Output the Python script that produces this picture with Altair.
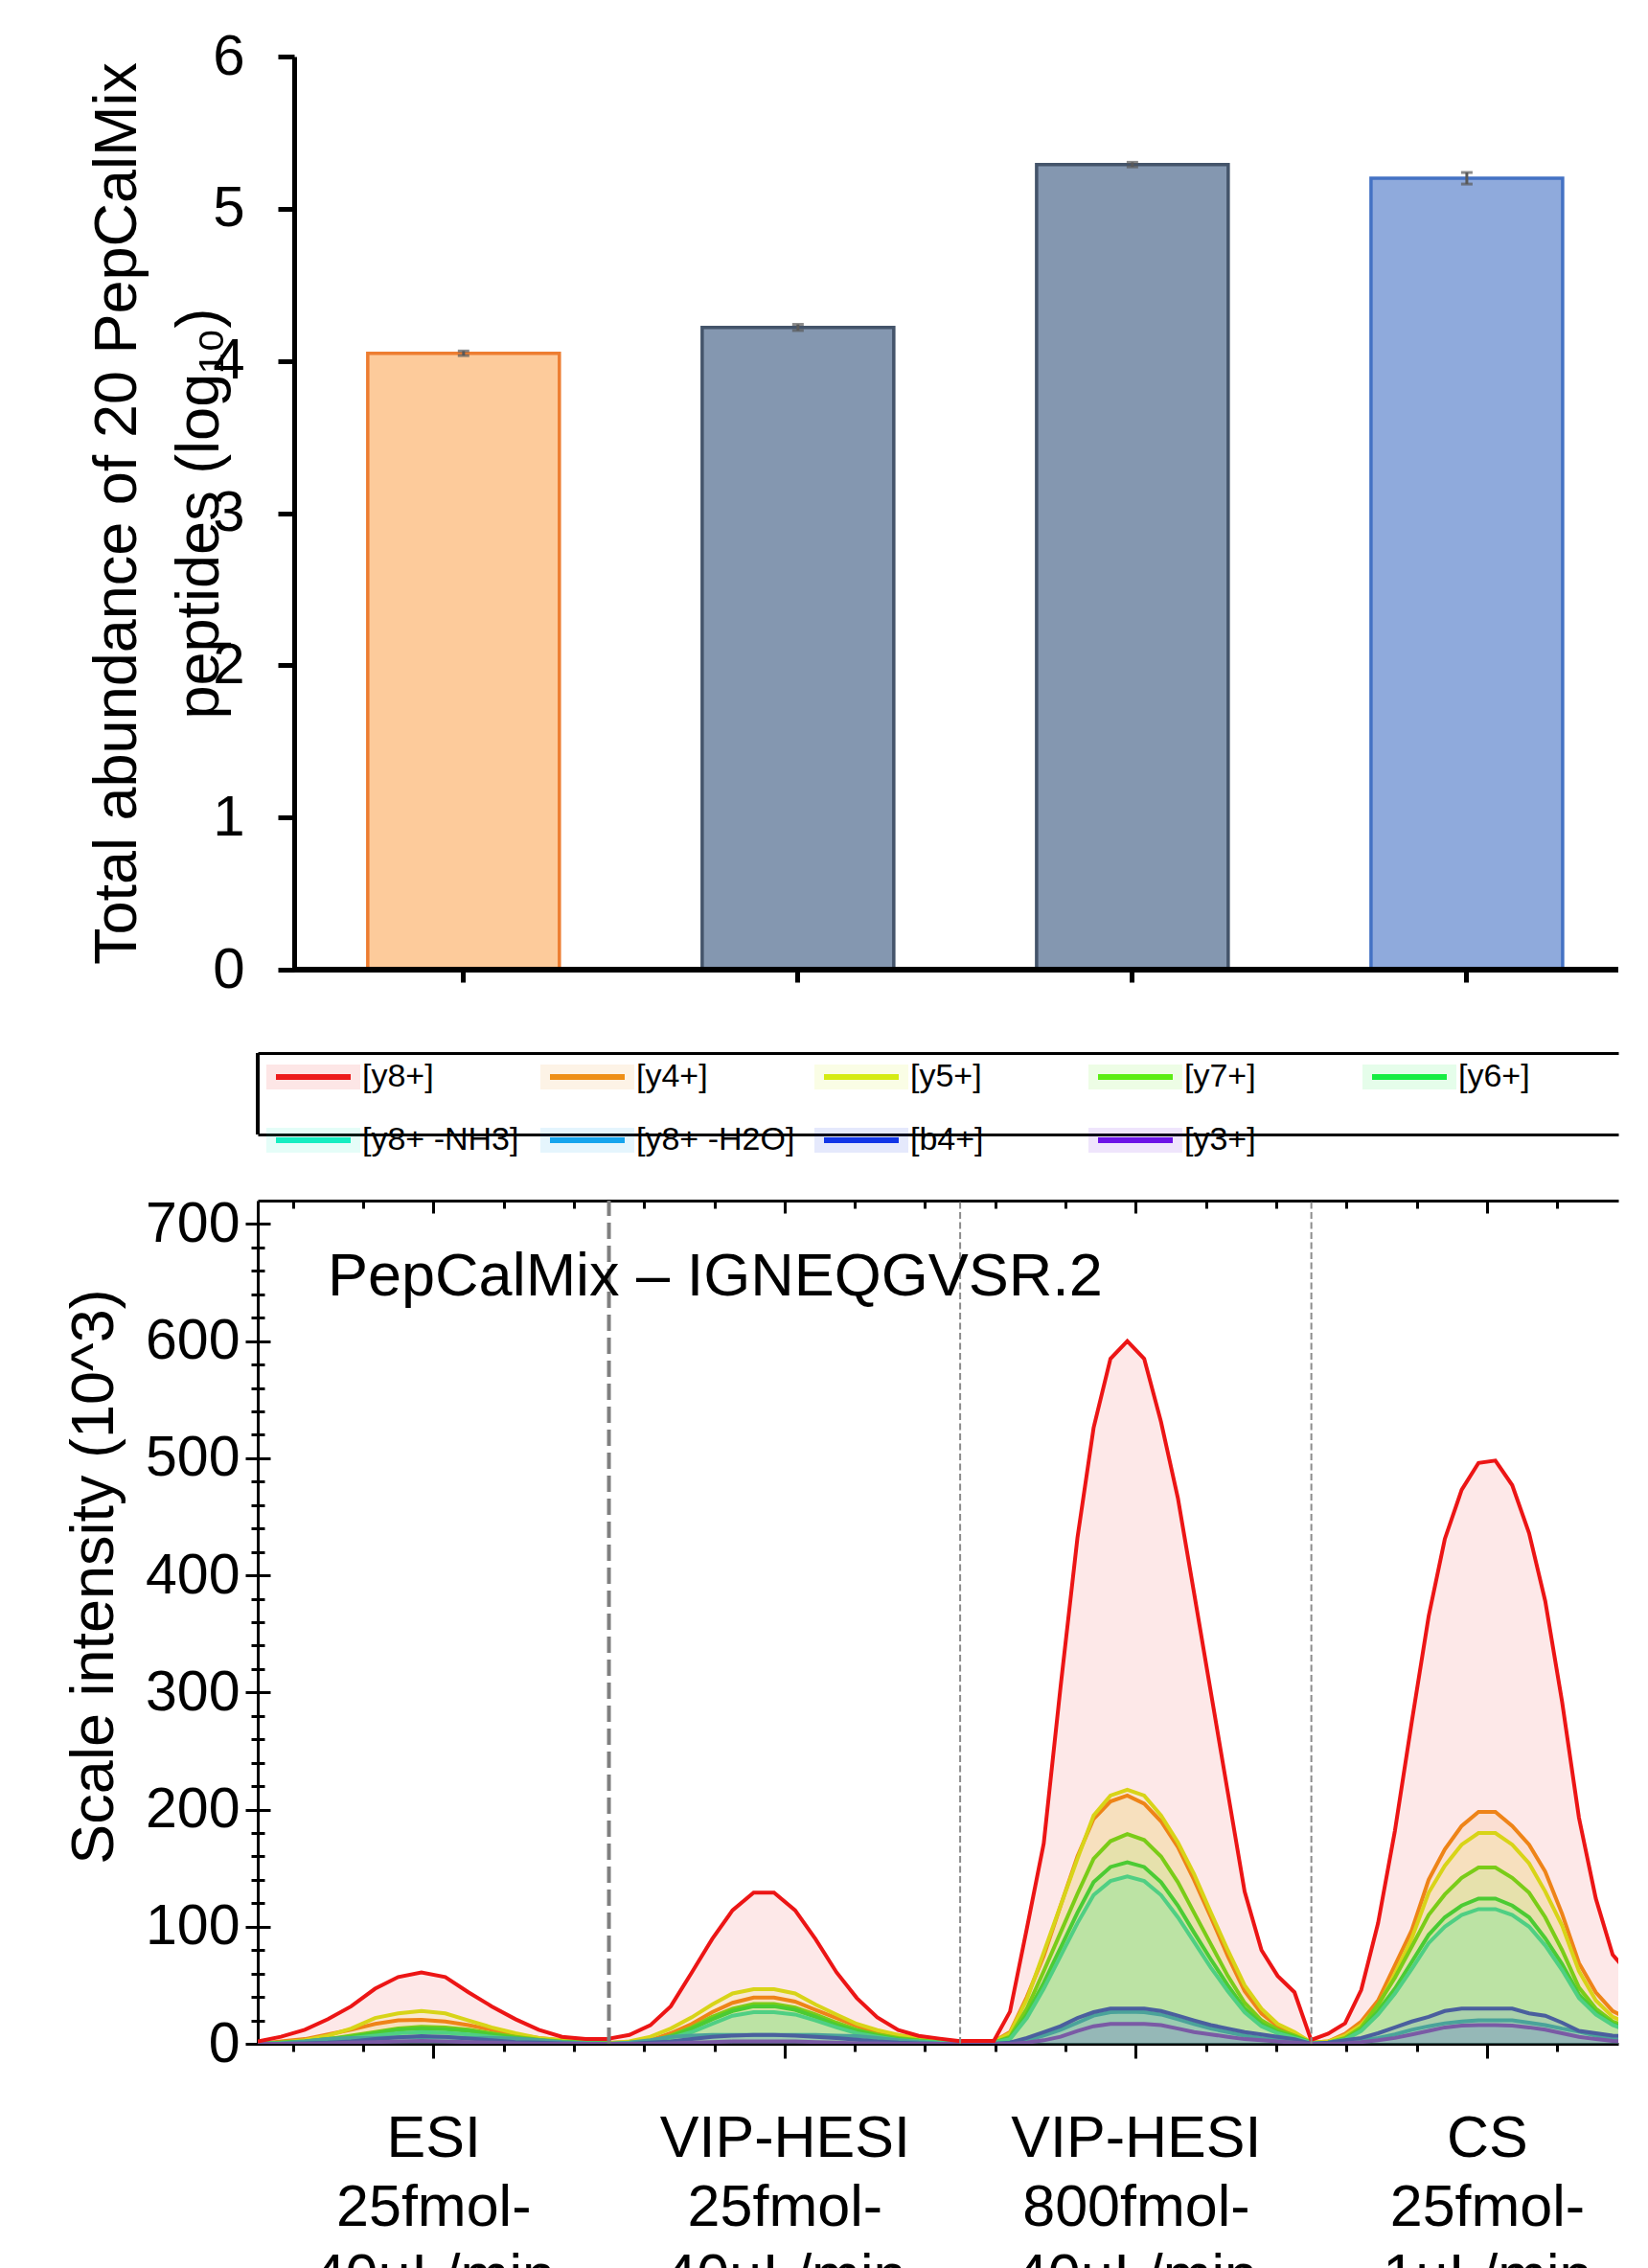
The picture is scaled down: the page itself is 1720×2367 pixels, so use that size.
import json
import pandas as pd
import altair as alt

FONT = "Liberation Sans, Arial, Helvetica, sans-serif"

# ---------------- top panel: total abundance (log10) ----------------
conditions = ["ESI 25fmol-40µL/min", "VIP-HESI 25fmol-40µL/min",
              "VIP-HESI 800fmol-40µL/min", "CS 25fmol-1µL/min"]
abundance = [4.05, 4.22, 5.29, 5.20]
abundance_sd = [0.015, 0.02, 0.015, 0.038]
bar_fill = ["#FDCB9B", "#8497B0", "#8497B0", "#8FAADC"]
bar_edge = ["#ED7D31", "#44546A", "#44546A", "#4472C4"]

# ---------------- bottom panel: extracted ion chromatograms ----------------
series = ["[y8+]", "[y4+]", "[y5+]", "[y7+]", "[y6+]",
          "[y8+ -NH3]", "[y8+ -H2O]", "[b4+]", "[y3+]"]
legend_colors = ["#EE1C1C", "#EF8F17", "#D6EB14", "#5CEE14", "#16EE43",
                 "#16EEC2", "#16A5EE", "#1236E8", "#6C14E8"]
line_colors = ["#EC1515", "#EE8418", "#D8D418", "#7ACC18", "#4BCB33",
               "#4FCF83", "#4AA39A", "#4A5F9E", "#7A5AA5"]
peptide_title = "PepCalMix – IGNEQGVSR.2"

t_esi = [0, 0.33, 0.67, 1.0, 1.33, 1.67, 2.0, 2.33, 2.67, 3.0, 3.33, 3.67, 4.0, 4.33, 4.67, 5.0]
t_vip25 = [5.0, 5.29, 5.59, 5.88, 6.18, 6.47, 6.76, 7.06, 7.35, 7.65, 7.94, 8.24, 8.53,
           8.82, 9.12, 9.41, 9.71, 10.0]
t_vip800 = [10.0, 10.24, 10.48, 10.71, 10.95, 11.19, 11.43, 11.67, 11.9, 12.14, 12.38, 12.62,
            12.86, 13.1, 13.33, 13.57, 13.81, 14.05, 14.29, 14.52, 14.76, 15.0]
t_cs = [15.0, 15.24, 15.48, 15.71, 15.95, 16.19, 16.43, 16.67, 16.9, 17.14, 17.38, 17.62,
        17.86, 18.1, 18.33, 18.57, 18.81, 19.05, 19.29, 19.52]
time = t_esi + t_vip25 + t_vip800 + t_cs

y8 = ([2, 6, 12, 21, 32, 47, 57, 61, 57, 44, 32, 21, 12, 6, 4, 4]
      + [4.4, 7.6, 15.8, 32, 61, 89.5, 114, 129, 129, 114, 89.5, 61, 39, 22.6, 11.7, 6.8, 4.4, 2.2]
      + [2.5, 2.5, 2.5, 27.5, 98.6, 171, 305, 432, 526, 585, 600, 585, 531, 466, 385, 300, 215,
         130, 80, 58, 44, 2.5]
      + [3.3, 8.6, 17.5, 46, 103, 182, 275, 365, 431, 473, 496, 498, 477, 436, 378, 292, 193,
         124, 76, 60])
y4 = ([0, 2, 4, 8, 12, 17, 20, 20.5, 19, 16, 12, 8, 5, 3, 2, 2]
      + [1, 1.5, 3, 9, 17, 27, 35, 39.5, 39.5, 36, 29, 22, 15, 10, 6, 3.5, 2, 1]
      + [1, 1, 2, 10, 40, 75, 118, 160, 192, 207, 212, 205, 190, 168, 140, 108, 75, 45, 26, 15, 9, 1]
      + [1, 2, 8.6, 19, 37, 67, 97, 140, 166, 186, 198, 198, 186, 170, 147, 111, 69, 44, 28, 21])
y5 = ([0, 1, 3, 7, 13, 22, 26, 28, 26, 20, 14, 9, 5, 3, 1.5, 1]
      + [0.5, 2, 6, 13, 22.6, 33.5, 43, 46.6, 46.6, 43, 33.5, 25, 17, 11.7, 7.6, 4.9, 3, 1]
      + [1, 1, 2, 9, 38, 78, 118, 158, 195, 212, 217, 212, 195, 172, 145, 112, 80, 50, 30, 17, 10, 1]
      + [1, 2, 7, 16, 32, 60, 90, 129, 152, 170, 180, 180, 170, 154, 130, 101, 62, 37, 23, 17])
y7 = ([0, 1, 2, 4, 7, 10, 13, 14.5, 14, 12, 9, 6, 3.5, 2, 1, 0.5]
      + [0, 1, 2, 7, 14, 23, 30, 34, 34, 31, 25, 18, 12, 8, 5, 3, 1.5, 0.5]
      + [0.5, 0.5, 1, 6, 30, 62, 95, 128, 158, 173, 179, 174, 160, 138, 112, 85, 58, 35, 20, 12, 7, 1]
      + [0.5, 1, 5, 14, 33.5, 56.5, 83, 110, 127.5, 141.7, 150.6, 150.6, 141.7, 129, 108, 80, 48,
         30, 19, 14])
y6 = ([0, 1, 2, 4, 6, 9, 12, 13, 12.5, 11, 8, 5, 3, 1.5, 1, 0.5]
      + [0, 0.5, 2, 6, 13, 21, 28, 32, 32, 29, 23, 16, 11, 7, 4, 2.5, 1, 0.5]
      + [0.5, 0.5, 1, 5, 25, 52, 82, 112, 138, 151, 155, 151, 138, 118, 95, 72, 50, 30, 17, 10, 6, 1]
      + [0.5, 1, 4, 12, 28, 47, 70, 93, 108, 118, 124, 124, 118, 108, 90, 68, 42, 27, 17, 12])
y8_nh3 = ([0, 0.5, 1, 3, 5, 7, 9, 10, 9.5, 8, 6, 4, 2, 1, 0.5, 0]
          + [0, 0.5, 1.5, 5, 10, 17, 24, 27, 27, 25, 20, 14, 9, 6, 3, 2, 1, 0]
          + [0.5, 0.5, 1, 4, 22, 47, 75, 103, 127, 139, 143, 139, 127, 108, 87, 65, 45, 27, 15, 9, 5, 1]
          + [0.5, 1, 3.5, 11, 25, 43, 64, 86, 100, 110, 115, 115, 110, 100, 84, 63, 39, 25, 16, 11])
y8_h2o = ([0, 0.5, 2, 4, 5, 5, 5.5, 5.5, 5.5, 5, 5, 4.5, 3, 1.5, 0.5, 0]
          + [0, 1, 3, 6, 7, 7.5, 7.5, 7.5, 7.5, 7.5, 7.5, 7, 6.5, 5, 3, 1.5, 0.5, 0]
          + [0, 0, 0, 1, 3, 7, 12, 18, 24, 27, 27.5, 27, 25, 21, 17, 13, 10, 7, 5, 4, 3, 0]
          + [0, 0.5, 1.5, 3, 5, 8, 12, 15, 17.5, 19, 20, 20, 20, 18, 16, 13, 10.4, 7, 4, 3])
b4 = ([0, 0, 0.5, 1, 2, 4, 5.5, 6.5, 6, 4.5, 3, 1.5, 1, 0.5, 0, 0]
      + [0, 0, 1, 2, 4, 6, 7, 7.6, 7.6, 7, 6, 5, 3.5, 2, 1, 0.5, 0, 0]
      + [0, 0, 0, 1, 5, 10, 15, 22, 27, 30, 30, 30, 28, 24, 20, 16, 13, 10, 8, 6, 4, 0]
      + [0, 1, 3, 5, 9, 14, 19, 23, 28, 30, 30, 30, 30, 26, 24, 18, 11, 9, 7, 6])
y3 = ([0, 0, 0, 0.5, 1, 1.5, 2, 2.5, 2, 1.5, 1, 0.5, 0, 0, 0, 0]
      + [0, 0, 0, 0.5, 1, 1.5, 2, 2, 2, 2, 1.5, 1, 0.5, 0.5, 0, 0, 0, 0]
      + [0, 0, 0, 0, 1, 3, 6, 11, 15, 17, 17, 17, 16, 13, 10, 8, 6, 4, 3, 2, 1, 0]
      + [0, 0, 0.5, 1.5, 3, 5, 8, 11, 14, 15.5, 16, 16, 15.5, 14, 12, 9, 6, 4, 2.5, 2])
all_traces = [y8, y4, y5, y7, y6, y8_nh3, y8_h2o, b4, y3]

segment_bounds = [5, 10, 15]
segment_centers = [2.5, 7.5, 12.5, 17.5]
segment_minor = [0.5, 1.5, 3.5, 4.5, 5.5, 6.5, 8.5, 9.5, 10.5, 11.5, 13.5, 14.5,
                 15.5, 16.5, 18.5]
segment_labels = [["ESI", "25fmol-", "40µL/min"],
                  ["VIP-HESI", "25fmol-", "40µL/min"],
                  ["VIP-HESI", "800fmol-", "40µL/min"],
                  ["CS", "25fmol-", "1µL/min"]]
y_major = [0, 100, 200, 300, 400, 500, 600, 700]
y_minor = [v for v in range(20, 720, 20) if v % 100 != 0]

# ---------------- data frames ----------------
bars_df = pd.DataFrame({"cond": conditions, "val": abundance, "sd": abundance_sd})
rows = []
for s, vals in zip(series, all_traces):
    for t, v in zip(time, vals):
        rows.append({"t": t, "v": v, "series": s})
chrom_df = pd.DataFrame(rows)
bounds_df = pd.DataFrame({"b": segment_bounds})
legend_df = pd.DataFrame({"series": series})
title_df = pd.DataFrame({"label": [peptide_title]})


def tint(hex_color, a=0.11):
    h = hex_color.lstrip("#")
    r, g, b = int(h[0:2], 16), int(h[2:4], 16), int(h[4:6], 16)
    return f"rgba({r},{g},{b},{a})"


legend_tints = [tint(c) for c in legend_colors]
W = 1420


def AX(**kw):
    base = dict(labels=False, title=None, grid=False, domain=False, ticks=True, tickWidth=3,
                tickColor="black")
    base.update(kw)
    return alt.Axis(**base)


# ================= top chart =================
bx = alt.Scale(domain=conditions, paddingInner=0.427, paddingOuter=0.2477, align=0.664)
by = alt.Scale(domain=[0, 6], nice=False)
ax_by = alt.Axis(orient="left", offset=-38, values=[0, 1, 2, 3, 4, 5, 6], domain=True,
                 domainColor="black", domainWidth=5, ticks=True, tickSize=17, tickWidth=5,
                 tickColor="black", labelFont=FONT, labelFontSize=60, labelColor="black",
                 labelPadding=35, labelFlush=False, grid=False,
                 title=["Total abundance of 20 PepCalMix", "peptides (log₁₀)"],
                 titleFont=FONT, titleFontSize=63, titleFontWeight="normal", titleColor="black",
                 titleAngle=270, titleX=-185, titleY=476.5, titleBaseline="middle",
                 titleAlign="center", titleLineHeight=86, titleLimit=3000)
bars = alt.Chart(bars_df).mark_bar(strokeWidth=3.5).encode(
    x=alt.X("cond:N", scale=bx, axis=None),
    y=alt.Y("val:Q", scale=by, axis=ax_by),
    fill=alt.Fill("cond:N", scale=alt.Scale(domain=conditions, range=bar_fill), legend=None),
    stroke=alt.Stroke("cond:N", scale=alt.Scale(domain=conditions, range=bar_edge), legend=None))
baseline = alt.Chart(bars_df).mark_rule(color="black", strokeWidth=5).encode(
    y=alt.YDatum(0, axis=None), x=alt.value(38), x2=alt.value(W))
err_base = alt.Chart(bars_df).transform_calculate(
    lo="datum.val - datum.sd", hi="datum.val + datum.sd")
err_rule = err_base.mark_rule(color="#595959", strokeWidth=3).encode(
    x=alt.X("cond:N", scale=bx, axis=AX(orient="bottom", offset=-13, tickSize=26, tickWidth=5)),
    y=alt.Y("lo:Q", scale=by, axis=None), y2="hi:Q")
err_lo = err_base.mark_tick(color="#595959", size=12, thickness=3).encode(
    x=alt.X("cond:N", scale=bx, axis=None), y=alt.Y("lo:Q", scale=by, axis=None))
err_hi = err_base.mark_tick(color="#595959", size=12, thickness=3).encode(
    x=alt.X("cond:N", scale=bx, axis=None), y=alt.Y("hi:Q", scale=by, axis=None))
top = alt.layer(bars, baseline, err_rule, err_lo, err_hi).resolve_axis(
    x="independent", y="independent").properties(width=W, height=953)

# ================= legend panel =================
LEG_H = 127
legend_def = alt.Legend(
    orient="none", legendX=19, legendY=44, direction="horizontal", columns=5,
    gridAlign="all", title=None, padding=0,
    symbolType="M-3,0L3,0M-3,-0.23L3,-0.23L3,0.23L-3,0.23Z", symbolSize=676,
    symbolStrokeWidth=20, symbolOffset=16, symbolOpacity=1,
    labelFont=FONT, labelFontSize=34, labelColor="black", labelOffset=28, labelLimit=400,
    columnPadding=-10, rowPadding=-45)
leg_base = alt.Chart(legend_df).transform_calculate(z="-1")
box_x = alt.Scale(domain=[0, 1])
box_y = alt.Scale(domain=[0, LEG_H], nice=False)
legend_main = leg_base.mark_square(clip=True).encode(
    x=alt.X("z:Q", scale=box_x, axis=AX(orient="top", offset=-42, domain=True,
            domainColor="black", domainWidth=3, ticks=False)),
    y=alt.Y("z:Q", scale=box_y, axis=None),
    fill=alt.Fill("series:N", scale=alt.Scale(domain=series, range=legend_colors),
                  legend=legend_def),
    stroke=alt.Stroke("series:N", scale=alt.Scale(domain=series, range=legend_tints),
                      legend=legend_def))
legend_bottom = leg_base.mark_square(clip=True).encode(
    x=alt.X("z:Q", scale=box_x, axis=AX(orient="bottom", domain=True, domainColor="black",
            domainWidth=3, ticks=False)),
    y=alt.Y("z:Q", scale=box_y, axis=None))
legend_left = alt.Chart(legend_df).mark_rule(color="black", strokeWidth=3).encode(
    x=alt.value(0), y=alt.YDatum(0, scale=box_y, axis=None), y2=alt.Y2Datum(LEG_H - 42))
legend_panel = alt.layer(legend_main, legend_bottom, legend_left).resolve_axis(
    x="independent").properties(width=W, height=LEG_H)

# ================= bottom chart =================
XMAX = 19.37
YMAX = 720
xs = alt.Scale(domain=[0, XMAX], nice=False, zero=False)
ys = alt.Scale(domain=[0, YMAX], nice=False)
label_expr = (json.dumps(segment_labels, ensure_ascii=False)
              + "[round((datum.value - 2.5) / 5)]")

ax_x_main = alt.Axis(orient="bottom", values=segment_centers, domain=True, domainColor="black",
                     domainWidth=3, ticks=True, tickSize=15, tickWidth=3, tickColor="black",
                     labels=True, labelExpr=label_expr, labelFont=FONT, labelFontSize=61,
                     labelLineHeight=72, labelColor="black", labelBaseline="top",
                     labelAlign="center", labelPadding=54, labelFlush=False,
                     labelOverlap=False, labelLimit=600, title=None, grid=False)
ax_y_main = alt.Axis(orient="left", values=y_major, domain=True, domainColor="black",
                     domainWidth=3, ticks=False, labels=True, labelFont=FONT,
                     labelFontSize=59, labelColor="black", labelPadding=19,
                     labelFlush=False, grid=False,
                     title="Scale intensity (10^3)", titleFont=FONT, titleFontSize=63,
                     titleFontWeight="normal", titleColor="black", titleAngle=270,
                     titleX=-171, titleY=392, titleBaseline="middle", titleAlign="center",
                     titleLimit=3000)

chrom = alt.Chart(chrom_df)
fill_scale = alt.Scale(domain=series, range=legend_colors)
line_scale = alt.Scale(domain=series, range=line_colors)

areas = chrom.mark_area(fillOpacity=0.1, clip=True).encode(
    x=alt.X("t:Q", scale=xs, axis=ax_x_main),
    y=alt.Y("v:Q", scale=ys, axis=ax_y_main, stack=None),
    fill=alt.Fill("series:N", scale=fill_scale, legend=None))
lines_other = chrom.transform_filter(alt.datum.series != series[0]).mark_line(
    strokeWidth=4, clip=True).encode(
    x=alt.X("t:Q", scale=xs, axis=AX(orient="bottom", values=segment_minor, tickSize=8)),
    y=alt.Y("v:Q", scale=ys, axis=AX(orient="left", offset=-13, values=y_major, tickSize=26)),
    stroke=alt.Stroke("series:N", scale=line_scale, legend=None))
lines_red = chrom.transform_filter(alt.datum.series == series[0]).mark_line(
    strokeWidth=4, clip=True).encode(
    x=alt.X("t:Q", scale=xs, axis=AX(orient="top", offset=-13, values=segment_centers,
                                     tickSize=13)),
    y=alt.Y("v:Q", scale=ys, axis=AX(orient="left", offset=-7, values=y_minor, tickSize=14)),
    stroke=alt.Stroke("series:N", scale=line_scale, legend=None))
rule_main = alt.Chart(bounds_df).transform_filter(alt.datum.b == segment_bounds[0]).mark_rule(
    strokeDash=[17, 7], strokeWidth=4, color="#7F7F7F").encode(
    x=alt.X("b:Q", scale=xs, axis=AX(orient="top", offset=-8, values=segment_minor, tickSize=8)),
    y=alt.YDatum(0, axis=None), y2=alt.Y2Datum(YMAX))
rule_thin = alt.Chart(bounds_df).transform_filter(alt.datum.b != segment_bounds[0]).mark_rule(
    strokeDash=[7, 3.5], strokeWidth=2, color="#8C8C8C").encode(
    x=alt.X("b:Q", scale=xs, axis=AX(orient="top", domain=True, domainColor="black",
                                     domainWidth=3, ticks=False)),
    y=alt.YDatum(0, axis=None), y2=alt.Y2Datum(YMAX))
peptide_label = alt.Chart(title_df).mark_text(
    align="left", baseline="alphabetic", fontSize=63, font=FONT, color="black").encode(
    text="label:N", x=alt.value(73), y=alt.value(98.5))

bottom = alt.layer(areas, lines_other, lines_red, rule_main, rule_thin, peptide_label).resolve_axis(
    x="independent", y="independent").properties(width=W, height=880)

chart = alt.vconcat(top, legend_panel, bottom, spacing=13).resolve_scale(
    x="independent", y="independent", fill="independent", stroke="independent"
).properties(
    padding={"left": 66, "top": 28, "right": 0, "bottom": 0}
).configure(font=FONT).configure_view(stroke="transparent")

chart.save("out.html", embed_options={"renderer": "svg", "actions": False})
